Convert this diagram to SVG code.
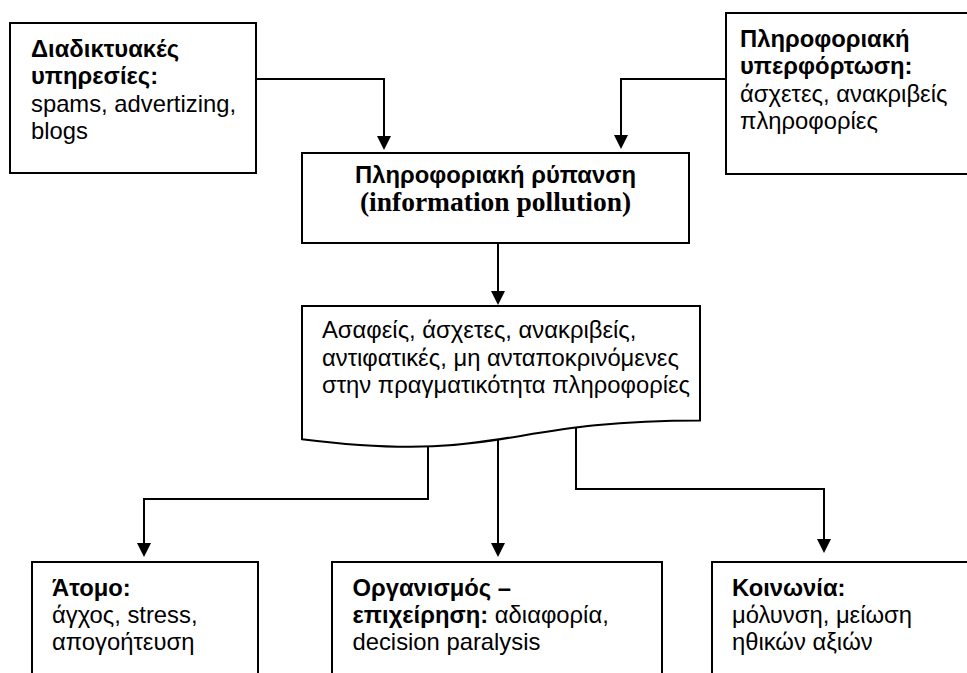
<svg xmlns="http://www.w3.org/2000/svg" width="967" height="673" viewBox="0 0 967 673">
  <style>
    .box { fill: #fff; stroke: #000; stroke-width: 2; }
    .wire { fill: none; stroke: #000; stroke-width: 2; }
    .t { font-family: "Liberation Sans", Arial, "DejaVu Sans", sans-serif; font-size: 23.8px; fill: #000; }
    .b { font-weight: bold; }
    .serif { font-family: "Liberation Serif", "Times New Roman", serif; font-size: 27.5px; font-weight: bold; fill: #000; }
  </style>
  <defs>
    <marker id="arrow" viewBox="0 0 14 14" refX="6" refY="7" markerWidth="14" markerHeight="14" markerUnits="userSpaceOnUse" orient="auto">
      <path d="M0,0 L14,7 L0,14 Z" fill="#000"/>
    </marker>
  </defs>
  <rect width="967" height="673" fill="#fff"/>

  <!-- connectors -->
  <g id="connectors">
    <path class="wire" d="M256,79 H384 V142" marker-end="url(#arrow)"/>
    <path class="wire" d="M726,79 H621 V141" marker-end="url(#arrow)"/>
    <path class="wire" d="M498,243 V297" marker-end="url(#arrow)"/>
    <path class="wire" d="M428,440 V499 H144 V549" marker-end="url(#arrow)"/>
    <path class="wire" d="M498,435 V549" marker-end="url(#arrow)"/>
    <path class="wire" d="M576,420 V489 H824 V545" marker-end="url(#arrow)"/>
  </g>

  <!-- source: web services -->
  <g id="web-services">
    <rect class="box" x="10" y="23" width="246" height="150"/>
    <text class="t" x="31"><tspan class="b" x="31" y="57">Διαδικτυακές</tspan><tspan class="b" x="31" y="84.4">υπηρεσίες:</tspan><tspan x="31" y="111.8">spams, advertizing,</tspan><tspan x="31" y="139.2">blogs</tspan></text>
  </g>

  <!-- source: information overload -->
  <g id="information-overload">
    <rect class="box" x="726" y="13" width="262" height="161"/>
    <text class="t"><tspan class="b" x="740" y="47">Πληροφοριακή</tspan><tspan class="b" x="740" y="74.4">υπερφόρτωση:</tspan><tspan x="740" y="101.8">άσχετες, ανακριβείς</tspan><tspan x="740" y="129.2">πληροφορίες</tspan></text>
  </g>

  <!-- central concept -->
  <g id="information-pollution">
    <rect class="box" x="302" y="153" width="387" height="90"/>
    <text class="t b" x="495.5" y="183" text-anchor="middle">Πληροφοριακή ρύπανση</text>
    <text class="serif" x="495.5" y="211" text-anchor="middle">(information pollution)</text>
  </g>

  <!-- document shape: resulting information -->
  <g id="polluted-information">
    <path class="box" d="M302,306 L700,306 L700,420.4 C501,420.4 501,464 302,439.2 Z"/>
    <text class="t"><tspan x="322" y="338.3">Ασαφείς, άσχετες, ανακριβείς,</tspan><tspan x="322" y="365.7">αντιφατικές, μη ανταποκρινόμενες</tspan><tspan x="322" y="393.1">στην πραγματικότητα πληροφορίες</tspan></text>
  </g>

  <!-- effects -->
  <g id="individual">
    <rect class="box" x="32" y="562" width="226" height="130"/>
    <text class="t"><tspan class="b" x="52" y="595.5">Άτομο:</tspan><tspan x="52" y="622.9">άγχος, stress,</tspan><tspan x="52" y="650.3">απογοήτευση</tspan></text>
  </g>

  <g id="organization">
    <rect class="box" x="332" y="562" width="330" height="130"/>
    <text class="t"><tspan class="b" x="352.5" y="595.5">Οργανισμός –</tspan><tspan class="b" x="352.5" y="622.9">επιχείρηση:</tspan><tspan> αδιαφορία,</tspan><tspan x="352.5" y="650.3">decision paralysis</tspan></text>
  </g>

  <g id="society">
    <rect class="box" x="712" y="562" width="280" height="130"/>
    <text class="t"><tspan class="b" x="732" y="595.5">Κοινωνία:</tspan><tspan x="732" y="622.9">μόλυνση, μείωση</tspan><tspan x="732" y="650.3">ηθικών αξιών</tspan></text>
  </g>
</svg>
